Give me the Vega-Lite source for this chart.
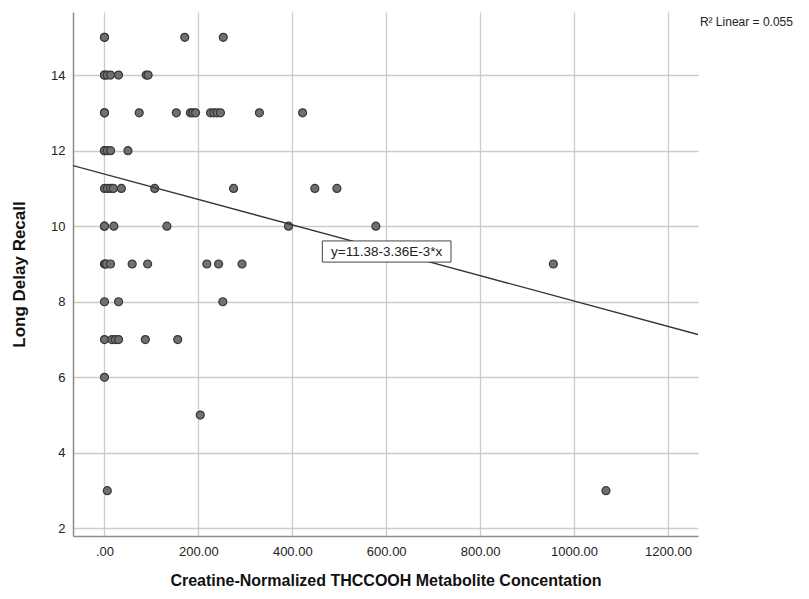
{
  "$schema": "https://vega.github.io/schema/vega-lite/v6.json",
  "width": 625,
  "height": 524,
  "autosize": "none",
  "padding": {"left": 73, "top": 12, "right": 111, "bottom": 63},
  "background": "white",
  "config": {
    "font": "Liberation Sans",
    "view": {"stroke": null},
    "axis": {
      "grid": true,
      "gridColor": "#cccccc",
      "gridWidth": 1.3,
      "domainColor": "#8c8c8c",
      "domainWidth": 1.5,
      "ticks": false,
      "labelFont": "Liberation Sans",
      "labelFontSize": 13,
      "labelColor": "#222222",
      "titleFont": "Liberation Sans",
      "titleFontWeight": "bold",
      "titleColor": "#111111"
    }
  },
  "datasets": {
    "pts": [
      {"conc": 0, "recall": 15}, {"conc": 0, "recall": 15}, {"conc": 171, "recall": 15}, {"conc": 253, "recall": 15},
      {"conc": 0, "recall": 14}, {"conc": 0, "recall": 14}, {"conc": 6, "recall": 14}, {"conc": 13, "recall": 14}, {"conc": 30, "recall": 14}, {"conc": 89, "recall": 14}, {"conc": 93, "recall": 14},
      {"conc": 0, "recall": 13}, {"conc": 0, "recall": 13}, {"conc": 74, "recall": 13}, {"conc": 153, "recall": 13}, {"conc": 183, "recall": 13}, {"conc": 188, "recall": 13}, {"conc": 194, "recall": 13}, {"conc": 226, "recall": 13}, {"conc": 233, "recall": 13}, {"conc": 240, "recall": 13}, {"conc": 247, "recall": 13}, {"conc": 330, "recall": 13}, {"conc": 422, "recall": 13},
      {"conc": 0, "recall": 12}, {"conc": 0, "recall": 12}, {"conc": 6, "recall": 12}, {"conc": 13, "recall": 12}, {"conc": 50, "recall": 12},
      {"conc": 0, "recall": 11}, {"conc": 6, "recall": 11}, {"conc": 13, "recall": 11}, {"conc": 19, "recall": 11}, {"conc": 36, "recall": 11}, {"conc": 107, "recall": 11}, {"conc": 275, "recall": 11}, {"conc": 448, "recall": 11}, {"conc": 495, "recall": 11},
      {"conc": 0, "recall": 10}, {"conc": 0, "recall": 10}, {"conc": 20, "recall": 10}, {"conc": 133, "recall": 10}, {"conc": 392, "recall": 10}, {"conc": 578, "recall": 10},
      {"conc": 0, "recall": 9}, {"conc": 2, "recall": 9}, {"conc": 4, "recall": 9}, {"conc": 13, "recall": 9}, {"conc": 59, "recall": 9}, {"conc": 92, "recall": 9}, {"conc": 218, "recall": 9}, {"conc": 243, "recall": 9}, {"conc": 293, "recall": 9}, {"conc": 956, "recall": 9},
      {"conc": 0, "recall": 8}, {"conc": 30, "recall": 8}, {"conc": 252, "recall": 8},
      {"conc": 0, "recall": 7}, {"conc": 16, "recall": 7}, {"conc": 23, "recall": 7}, {"conc": 30, "recall": 7}, {"conc": 87, "recall": 7}, {"conc": 156, "recall": 7},
      {"conc": 0, "recall": 6},
      {"conc": 204, "recall": 5},
      {"conc": 6, "recall": 3}, {"conc": 1068, "recall": 3}
    ],
    "fit": [
      {"conc": -67, "recall": 11.605},
      {"conc": 1264, "recall": 7.133}
    ],
    "box": [
      {"x1": 464, "x2": 738, "y1": 9.05, "y2": 9.61, "xm": 601, "ym": 9.33, "label": "y=11.38-3.36E-3*x"}
    ],
    "r2": [
      {"x": 1268, "y": 15.4, "label": "R² Linear = 0.055"}
    ]
  },
  "layer": [
    {
      "data": {"name": "pts"},
      "mark": {"type": "point", "shape": "circle", "filled": true, "size": 64, "fill": "#707070", "stroke": "#383838", "strokeWidth": 1.2, "opacity": 1},
      "encoding": {
        "x": {
          "field": "conc", "type": "quantitative",
          "scale": {"domain": [-67, 1264], "nice": false, "zero": false},
          "axis": {
            "values": [0, 200, 400, 600, 800, 1000, 1200],
            "labelExpr": "datum.value == 0 ? '.00' : format(datum.value, '.2f')",
            "title": "Creatine-Normalized THCCOOH Metabolite Concentation",
            "titleFontSize": 16,
            "titlePadding": 14,
            "labelPadding": 9
          }
        },
        "y": {
          "field": "recall", "type": "quantitative",
          "scale": {"domain": [1.8, 15.67], "nice": false, "zero": false},
          "axis": {
            "values": [2, 4, 6, 8, 10, 12, 14],
            "title": "Long Delay Recall",
            "titleFontSize": 17,
            "titlePadding": 22,
            "labelPadding": 8
          }
        }
      }
    },
    {
      "data": {"name": "fit"},
      "mark": {"type": "line", "color": "#333333", "strokeWidth": 1.3, "clip": true},
      "encoding": {
        "x": {"field": "conc", "type": "quantitative"},
        "y": {"field": "recall", "type": "quantitative"}
      }
    },
    {
      "data": {"name": "box"},
      "mark": {"type": "rect", "fill": "white", "stroke": "#444444", "strokeWidth": 1},
      "encoding": {
        "x": {"field": "x1", "type": "quantitative"},
        "x2": {"field": "x2"},
        "y": {"field": "y1", "type": "quantitative"},
        "y2": {"field": "y2"}
      }
    },
    {
      "data": {"name": "box"},
      "mark": {"type": "text", "fontSize": 13.5, "color": "#222222", "align": "center", "baseline": "middle"},
      "encoding": {
        "x": {"field": "xm", "type": "quantitative"},
        "y": {"field": "ym", "type": "quantitative"},
        "text": {"field": "label"}
      }
    },
    {
      "data": {"name": "r2"},
      "mark": {"type": "text", "fontSize": 12, "color": "#222222", "align": "left", "baseline": "middle"},
      "encoding": {
        "x": {"field": "x", "type": "quantitative"},
        "y": {"field": "y", "type": "quantitative"},
        "text": {"field": "label"}
      }
    }
  ]
}
